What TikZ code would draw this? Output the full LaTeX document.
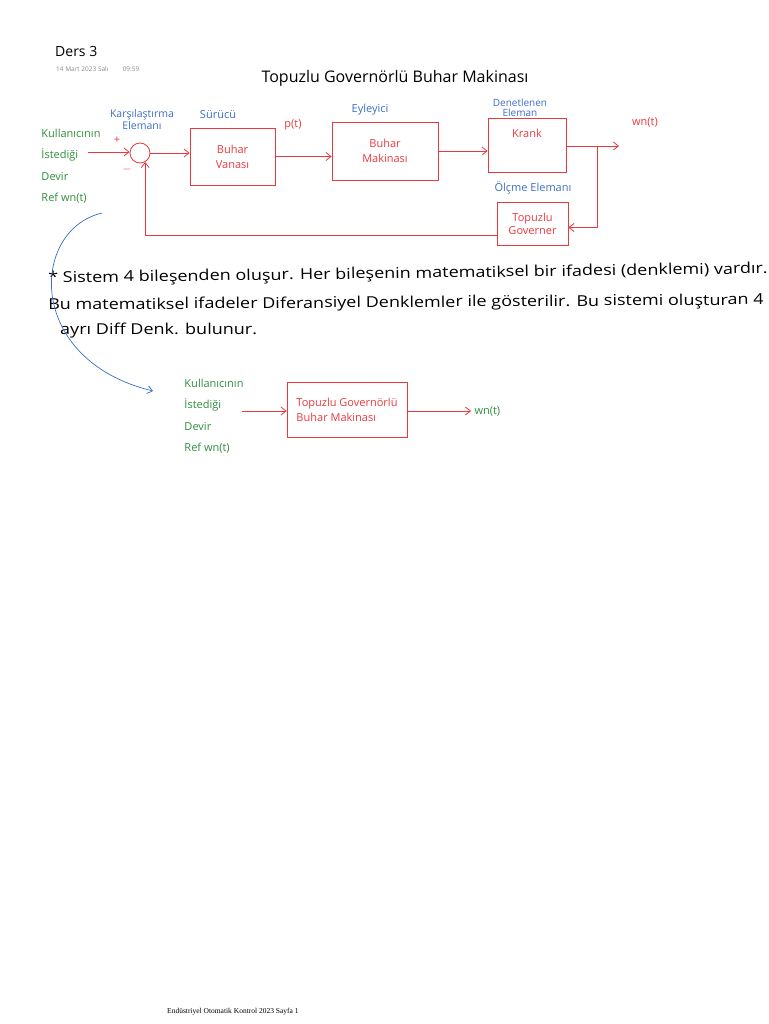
\documentclass[tikz,border=0pt]{standalone}
\usepackage{fontspec}
\setmainfont{Open Sans}
\newfontfamily\footfont{Liberation Serif}
\usepackage{xcolor}
\usetikzlibrary{arrows.meta,positioning}
\definecolor{inkred}{HTML}{E8393F}
\definecolor{inkblue}{HTML}{3C6EC8}
\definecolor{inkgreen}{HTML}{2E8E3C}
\definecolor{greytext}{HTML}{8A8A8A}
\newcommand{\hand}[1]{\fontsize{#1}{#1}\selectfont}

\begin{document}
\begin{tikzpicture}[x=1pt,y=-1pt,>={Straight Barb[length=5pt,width=8pt]},
    blok/.style={draw=inkred,line width=0.8pt,align=center,text=inkred,font=\hand{11}},
    wire/.style={draw=inkred,line width=0.8pt},
    etiket/.style={text=inkblue,align=center,font=\hand{11},inner sep=1pt},
    giris/.style={text=inkgreen,align=left,font=\fontsize{11}{21.5}\selectfont,inner sep=0pt},
    metin/.style={anchor=west,font=\hand{15},inner sep=0pt,xscale=1.2,transform shape}]
    \useasboundingbox (0,0) rectangle (768,1024);
    % header
    \node[anchor=west,font=\fontsize{14}{14}\selectfont,inner sep=0pt] (ders) at (55,52) {Ders 3};
    \node[anchor=west,font=\fontsize{6.5}{6.5}\selectfont,text=greytext,inner sep=0pt] (tarih) at (56,69) {14 Mart 2023 Salı\hspace{2.2em}09:59};
    \node[font=\hand{16}] (baslik) at (395,78) {Topuzlu Governörlü Buhar Makinası};
    % closed loop
    \node[draw=inkred,line width=0.8pt,circle,minimum size=20pt,inner sep=0pt] (sum) at (140,153) {};
    \node[blok,minimum width=85pt,minimum height=57pt] (vana) at (232.5,156.5) {Buhar\\[4pt]Vanası};
    \node[blok,minimum width=106pt,minimum height=58pt] (makina) at (385,151) {Buhar\\[4pt]Makinası};
    \node[blok,minimum width=78pt,minimum height=54pt] (krank) at (527,145) {Krank\\[12pt]};
    \node[blok,minimum width=71pt,minimum height=43pt] (governer) at (532.5,223.5) {Topuzlu\\[2pt]Governer};
    \node[giris] (ref) at (71,166) {Kullanıcının\\İstediği\\Devir\\Ref wn(t)};
    \node[etiket,font=\fontsize{10.5}{12}\selectfont] (karsi) at (142,120) {Karşılaştırma\\Elemanı};
    \node[etiket] (surucu) at (218,115) {Sürücü};
    \node[etiket] (eyleyici) at (370,110) {Eyleyici};
    \node[etiket,font=\fontsize{10}{10.5}\selectfont] (denetlenen) at (520,108) {Denetlenen\\Eleman};
    \node[etiket] (olcme) at (533,188) {Ölçme Elemanı};
    \node[text=inkred,font=\hand{11}] (plus) at (117,140) {+};
    \node[text=inkred,font=\hand{13}] (minus) at (127,170) {$-$};
    \node[text=inkred,font=\hand{11}] (pt) at (293,125) {p(t)};
    \node[text=inkred,font=\hand{11}] (wn) at (645,122) {wn(t)};
    \coordinate (gir) at (88,152);
    \coordinate (tap) at (597,146);
    \coordinate (cikis) at (619,146);
    \draw[wire,->] (gir) -- (gir -| sum.west);
    \draw[wire,->] (sum.east) -- (sum.east -| vana.west);
    \draw[wire,->] (vana.east) -- (vana.east -| makina.west);
    \draw[wire,->] (makina.east) -- (makina.east -| krank.west);
    \draw[wire,->] (krank.east |- tap) -- (cikis);
    \draw[wire,->] (tap) |- ([yshift=-4pt]governer.east);
    \draw[wire,->] ([yshift=-12pt]governer.west) -| (sum.-60);
    % explanation
    \node[metin,rotate=0.9] (satir1) at (48,279) {* Sistem 4 bileşenden oluşur. Her bileşenin matematiksel bir ifadesi (denklemi) vardır.};
    \node[metin,rotate=0.5] (satir2) at (48,306) {Bu matematiksel ifadeler Diferansiyel Denklemler ile gösterilir. Bu sistemi oluşturan 4};
    \node[metin] (satir3) at (60,331) {ayrı Diff Denk. bulunur.};
    % simplified block
    \coordinate (kuyruk) at (102,213);
    \coordinate (uc) at (153,391);
    \draw[inkblue,line width=0.7pt,->] (kuyruk) .. controls (30,230) and (25,360) .. (uc);
    \node[giris] (ref2) at (214,416) {Kullanıcının\\İstediği\\Devir\\Ref wn(t)};
    \node[blok,minimum width=120pt,minimum height=55pt,align=left] (sistem) at (347,409.5) {Topuzlu Governörlü\\[4pt]Buhar Makinası};
    \coordinate (gir2) at (242,411);
    \coordinate (cikis2) at (471,411);
    \node[text=inkgreen,anchor=west,font=\hand{11}] (wn2) at (cikis2) {wn(t)};
    \draw[wire,->] (gir2) -- (gir2 -| sistem.west);
    \draw[wire,->] (sistem.east |- gir2) -- (cikis2);
    % footer
    \node[anchor=west,font=\footfont\fontsize{7.5}{7.5}\selectfont,inner sep=0pt] (sayfa) at (167,1012) {Endüstriyel Otomatik Kontrol 2023 Sayfa 1};
\end{tikzpicture}
\end{document}
